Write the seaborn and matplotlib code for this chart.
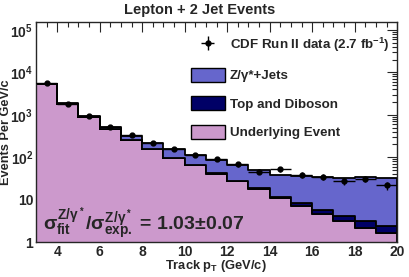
import numpy as np
import pandas as pd
import matplotlib
matplotlib.use("Agg")
import matplotlib.pyplot as plt
import seaborn as sns
from matplotlib.patches import Patch

# bin edges and values (events per GeV/c)
edges = [3, 4, 5, 6, 7, 8, 9, 10, 11, 12, 13, 14, 15, 16, 17, 18, 19, 20]
ue = [5350, 1840, 900, 455, 260, 158, 95, 66, 41, 27, 18, 10.8, 7.0, 4.7, 3.1, 2.1, 1.6]
top_dib = [2, 2, 2, 1.5, 1.5, 1.4, 1.3, 1.2, 1.1, 1.0, 1.0, 0.9, 1.5, 1.1, 1.0, 1.0, 0.8]
total = [5400, 1860, 920, 515, 325, 213, 158, 113, 87, 67, 49, 39, 37, 34, 32, 34, 33]
data_x = [3.5, 4.5, 5.5, 6.5, 7.5, 8.5, 9.5, 10.5, 11.5, 12.5, 13.5, 14.5, 15.5, 16.5, 17.5, 18.5, 19.5]
data_y = [5500, 1800, 920, 530, 335, 218, 153, 110, 90, 68, 46, 53, 38.5, 35, 27, 31, 22]
data_err = [74, 42, 30, 23, 18, 15, 12, 10.5, 9.5, 8.2, 6.8, 7.3, 6.2, 5.9, 5.2, 5.6, 4.7]

zjets = [t - u - d for t, u, d in zip(total, ue, top_dib)]

labels = ["Z/\u03b3*+Jets", "Top and Diboson", "Underlying Event"]
colors = {"Z/\u03b3*+Jets": "#6666cc", "Top and Diboson": "#000066", "Underlying Event": "#cc99cc"}

rows = []
for name, vals in zip(labels, [zjets, top_dib, ue]):
    for x, v in zip(data_x, vals):
        rows.append({"pt": x, "w": v, "comp": name})
df = pd.DataFrame(rows)

sns.set_style("white")
plt.rcParams["font.family"] = ["Liberation Sans", "DejaVu Sans"]
plt.rcParams["font.weight"] = "bold"
plt.rcParams["mathtext.fontset"] = "custom"
plt.rcParams["mathtext.rm"] = "Liberation Sans:bold"
plt.rcParams["mathtext.it"] = "Liberation Sans:bold"
plt.rcParams["mathtext.bf"] = "Liberation Sans:bold"

fig = plt.figure(figsize=(4.09, 2.77), dpi=100)
ax = fig.add_axes([0.088, 0.126, 0.883, 0.795])

sns.histplot(data=df, x="pt", weights="w", hue="comp", hue_order=labels,
             multiple="stack", bins=edges, element="step", palette=colors,
             alpha=1, edgecolor="black", linewidth=1.3, legend=False, ax=ax)

eb = ax.errorbar(data_x, data_y, yerr=data_err, xerr=0.5, fmt="o", color="black",
                 markersize=3.5, elinewidth=1, capsize=0, zorder=5)

ax.set_yscale("log")
ax.set_xlim(3, 20)
ax.set_ylim(1, 1.55e5)

ax.set_xticks([4, 6, 8, 10, 12, 14, 16, 18, 20])
ax.set_xticks(np.arange(3, 20.01, 0.5), minor=True)
ax.set_yticks([1, 10, 100, 1e3, 1e4, 1e5])
ax.set_yticklabels(["1", "10", "10$^2$", "10$^3$", "10$^4$", "10$^5$"])
ax.tick_params(which="both", direction="in", top=True, right=True, labelsize=10)
ax.tick_params(axis="x", pad=2)
ax.tick_params(axis="y", pad=2)
ax.tick_params(which="major", length=7, width=0.8)
ax.tick_params(which="minor", length=3.5, width=0.8)
for s in ax.spines.values():
    s.set_linewidth(1.0)

ax.set_xlabel("Track p$_{T}$ (GeV/c)", fontsize=9.3, fontweight="bold")
ax.xaxis.set_label_coords(0.497, -0.072, transform=ax.transAxes)
ax.xaxis.label.set_va("top")
ax.set_ylabel("Events Per GeV/c", fontsize=9.2, fontweight="bold")
ax.yaxis.set_label_coords(-0.084, 0.5, transform=ax.transAxes)
ax.yaxis.label.set_va("center")
fig.text(0.489, 0.964, "Lepton + 2 Jet Events", fontsize=10.5, fontweight="bold",
         ha="center", va="center")

ax.text(0.02, 0.0,
        r"$\sigma^{Z/\gamma^*}_{\rm fit}/\sigma^{Z/\gamma^*}_{\rm exp.}$ = 1.03$\pm$0.07",
        transform=ax.transAxes, fontsize=14, fontweight="bold", ha="left", va="bottom")

handles = [eb] + [Patch(facecolor=colors[l], edgecolor="black", linewidth=1) for l in labels]
names = ["CDF Run II data (2.7 fb$^{-1}$)"] + labels
ax.legend(handles, names, loc="upper left", bbox_to_anchor=(0.41, 0.968), frameon=False,
          borderpad=0, handlelength=2.55, handleheight=1.25, labelspacing=1.05,
          handletextpad=0.4, prop={"size": 9.6, "weight": "bold"})

fig.savefig("out.png", dpi=100)
